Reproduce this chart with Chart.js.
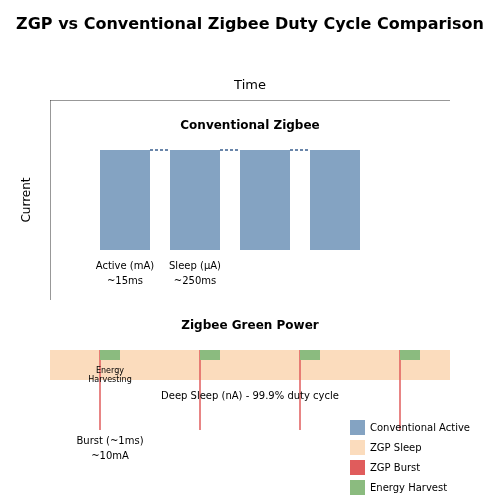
<!DOCTYPE html>
<html><head><meta charset="utf-8">
<script src="https://cdn.jsdelivr.net/npm/chart.js@4"></script>
<style>body{margin:0;background:#fff}canvas{display:block}</style>
</head><body><canvas id="c" width="500" height="500"></canvas>
<script>
// Data (time units 0-100, current units 0-100)
const convActiveStarts = [12.5, 30, 47.5, 65];
const convActiveWidth = 12.5;
const convActiveLevel = [62.5, 87.5]; // bottom, top
const convSleepLinks = [[25,30],[42.5,47.5],[60,65]];
const zgpSleepBand = [0, 100, 30, 37.5]; // x0,x1,bottom,top
const zgpBurstTimes = [12.5, 37.5, 62.5, 87.5];
const zgpBurstRange = [17.5, 37.5];
const harvestStarts = [12.5, 37.5, 62.5, 87.5];
const harvestWidth = 5;
const harvestLevel = [35, 37.5];
const legendLabels = ['Conventional Active','ZGP Sleep','ZGP Burst','Energy Harvest'];
const colors = {active:'#84a3c2', sleep:'#fbdcbd', burst:'#e05c5c', harvest:'#8bbb7f', link:'#3a5f8f'};

const datasets = [];
function rect(x0,x1,b,t,color,order){
  datasets.push({data:[{x:x0,y:t},{x:x1,y:t}],borderWidth:0,pointRadius:0,backgroundColor:color,fill:'+1',order});
  datasets.push({data:[{x:x0,y:b},{x:x1,y:b}],borderWidth:0,pointRadius:0,backgroundColor:color,fill:false,order});
}
convActiveStarts.forEach(s=>rect(s,s+convActiveWidth,convActiveLevel[0],convActiveLevel[1],colors.active,5));
convSleepLinks.forEach(l=>datasets.push({data:[{x:l[0],y:convActiveLevel[1]},{x:l[1],y:convActiveLevel[1]}],borderColor:colors.link,borderWidth:1.5,borderDash:[3,2],pointRadius:0,fill:false,order:4}));
rect(zgpSleepBand[0],zgpSleepBand[1],zgpSleepBand[2],zgpSleepBand[3],colors.sleep,3);
zgpBurstTimes.forEach(t=>datasets.push({data:[{x:t,y:zgpBurstRange[0]},{x:t,y:zgpBurstRange[1]}],borderColor:colors.burst,borderWidth:1.5,pointRadius:0,fill:false,order:2}));
harvestStarts.forEach(s=>rect(s,s+harvestWidth,harvestLevel[0],harvestLevel[1],colors.harvest,1));
// axes
datasets.push({data:[{x:0,y:50},{x:0,y:100},{x:100,y:100}],borderColor:'#333',borderWidth:1,pointRadius:0,fill:false,order:0});

const texts = [
 {t:'Time',x:50,y:103.5,f:'13px "DejaVu Sans"'},
 {t:'Conventional Zigbee',x:50,y:93.5,f:'bold 12px "DejaVu Sans"'},
 {t:'Active (mA)',x:18.75,y:58.5,f:'10px "DejaVu Sans"'},
 {t:'~15ms',x:18.75,y:54.75,f:'10px "DejaVu Sans"'},
 {t:'Sleep (μA)',x:36.25,y:58.5,f:'10px "DejaVu Sans"'},
 {t:'~250ms',x:36.25,y:54.75,f:'10px "DejaVu Sans"'},
 {t:'Zigbee Green Power',x:50,y:43.5,f:'bold 12px "DejaVu Sans"'},
 {t:'Energy',x:15,y:32.25,f:'8px "DejaVu Sans"'},
 {t:'Harvesting',x:15,y:30,f:'8px "DejaVu Sans"'},
 {t:'Deep Sleep (nA) - 99.9% duty cycle',x:50,y:26,f:'10px "DejaVu Sans"'},
 {t:'Burst (~1ms)',x:15,y:14.75,f:'10px "DejaVu Sans"'},
 {t:'~10mA',x:15,y:11,f:'10px "DejaVu Sans"'}
];
const textPlugin = {id:'texts',afterDatasetsDraw(chart){
  const c=chart.ctx, xs=chart.scales.x, ys=chart.scales.y;
  c.save(); c.fillStyle='#000'; c.textAlign='center'; c.textBaseline='middle';
  texts.forEach(o=>{c.font=o.f;c.fillText(o.t,xs.getPixelForValue(o.x),ys.getPixelForValue(o.y));});
  c.font='bold 16px "DejaVu Sans"'; c.fillText('ZGP vs Conventional Zigbee Duty Cycle Comparison',250,25);
  c.save(); c.translate(xs.getPixelForValue(-5.75),ys.getPixelForValue(75)); c.rotate(-Math.PI/2);
  c.font='12px "DejaVu Sans"'; c.fillText('Current',0,0); c.restore();
  const cols=[colors.active,colors.sleep,colors.burst,colors.harvest];
  c.textAlign='left'; c.font='10px "DejaVu Sans"';
  legendLabels.forEach((l,i)=>{const y=420+i*20; c.fillStyle=cols[i]; c.fillRect(350,y,15,15); c.fillStyle='#000'; c.fillText(l,370,y+8);});
  c.restore();
}};
new Chart(document.getElementById('c'),{type:'line',data:{datasets},plugins:[textPlugin],
 options:{responsive:false,devicePixelRatio:1,animation:false,
  layout:{padding:{left:50,right:50,top:100,bottom:0}},
  plugins:{legend:{display:false},tooltip:{enabled:false},title:{display:false}},
  scales:{x:{type:'linear',min:0,max:100,display:false},y:{type:'linear',min:0,max:100,display:false}},
  elements:{line:{tension:0}}}});
</script></body></html>
